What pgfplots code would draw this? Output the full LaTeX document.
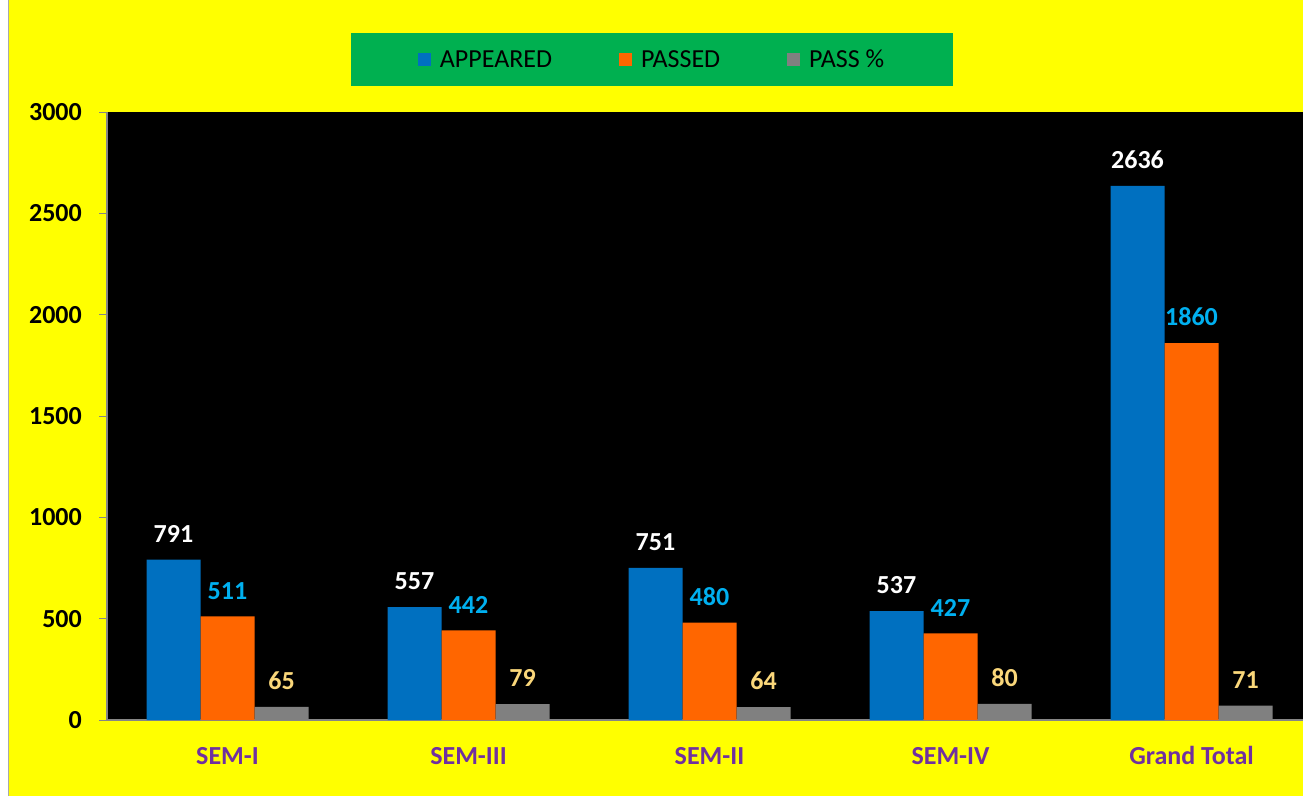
\documentclass[border=0pt]{standalone}
\usepackage{pgfplots}
\pgfplotsset{compat=1.18}
\usepackage{fontspec}
\setmainfont{Carlito}

\definecolor{bgyellow}{HTML}{FFFF00}
\definecolor{leggreen}{HTML}{00B050}
\definecolor{barblue}{HTML}{0070C0}
\definecolor{barorange}{HTML}{FF6600}
\definecolor{bargray}{HTML}{808080}
\definecolor{axgray}{HTML}{868686}
\definecolor{catpurple}{HTML}{7030A0}
\definecolor{lblblue}{HTML}{00B0F0}
\definecolor{lblgold}{HTML}{FAD77A}

\begin{document}
\begin{tikzpicture}[x=1pt,y=1pt]
\path[use as bounding box] (0,0) rectangle (1303,-796);
\fill[white] (0,0) rectangle (1303,-796);
\fill[bgyellow] (8,0) rectangle (1303,-796);
\draw[axgray!70, line width=1pt] (8,0) -- (8,-796);
\begin{axis}[
    at={(107pt,-720pt)}, anchor=south west,
    scale only axis, width=1205pt, height=608pt,
    xmin=-0.5, xmax=4.5, ymin=0, ymax=3000,
    axis background/.style={fill=black},
    axis lines*=left,
    axis line style={draw=axgray, line width=1.2pt},
    ybar=0pt, bar width=54pt,
    /pgf/number format/.cd, 1000 sep={}, assume math mode=true, /pgfplots/.cd,
    xtick={0,1,2,3,4},
    xticklabels={SEM-I,SEM-III,SEM-II,SEM-IV,Grand Total},
    x tick style={draw=none},
    extra x ticks={-0.5,0.5,1.5,2.5,3.5},
    extra x tick labels={},
    extra x tick style={tick style={draw=axgray, line width=1pt}},
    ytick={0,500,...,3000},
    y tick style={draw=axgray, line width=1pt},
    tick align=outside, major tick length=8pt,
    tick label style={font=\fontsize{26}{30}\selectfont\bfseries},
    yticklabel style={inner sep=0pt, xshift=-17pt},
    xticklabel style={text=catpurple, inner sep=0pt, anchor=base, yshift=-36pt},
    nodes near coords,
    nodes near coords style={font=\fontsize{26}{30}\selectfont\bfseries, anchor=south, inner sep=0pt, yshift=17pt},
    legend columns=-1,
    legend style={at={(0.4523,1.0863)}, anchor=center, fill=leggreen, draw=none,
        font=\fontsize{26}{30}\selectfont, inner xsep=67pt, inner ysep=14.5pt,
        /tikz/every odd column/.append style={column sep=7pt},
        /tikz/every even column/.append style={column sep=65pt}},
]
\addplot[fill=barblue, draw=none, every node near coord/.append style={text=white},
    legend image code/.code={\fill[barblue] (0pt,-6.5pt) rectangle (13pt,6.5pt);}]
    coordinates {(0,791) (1,557) (2,751) (3,537) (4,2636)};
\addlegendentry{APPEARED}
\addplot[fill=barorange, draw=none, every node near coord/.append style={text=lblblue},
    legend image code/.code={\fill[barorange] (0pt,-6.5pt) rectangle (13pt,6.5pt);}]
    coordinates {(0,511) (1,442) (2,480) (3,427) (4,1860)};
\addlegendentry{PASSED}
\addplot[fill=bargray, draw=none, every node near coord/.append style={text=lblgold},
    legend image code/.code={\fill[bargray] (0pt,-6.5pt) rectangle (13pt,6.5pt);}]
    coordinates {(0,65) (1,79) (2,64) (3,80) (4,71)};
\addlegendentry{PASS \%}
\end{axis}
\end{tikzpicture}
\end{document}
